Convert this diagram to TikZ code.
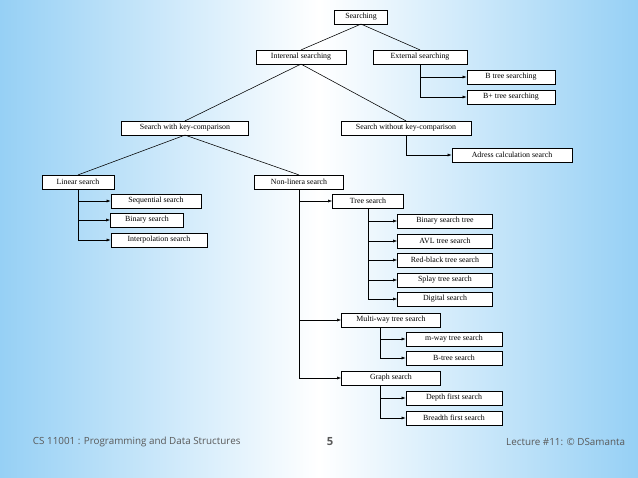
\documentclass[tikz,border=0pt]{standalone}
\usepackage{fontspec}
\setmainfont{Liberation Serif}
\newfontfamily\footfont{Open Sans}
\usetikzlibrary{arrows.meta}
\definecolor{skyedge}{RGB}{150,208,245}

\begin{document}
\begin{tikzpicture}[x=0.025cm, y=-0.025cm,
  box/.style={draw, fill=white, thin, inner sep=1pt, minimum height=0.34cm,
    minimum width=#1*0.025cm, font=\fontsize{5.6}{6}\selectfont},
  arr/.style={-{Latex[length=3pt,width=2.2pt]}, thin},
  foot/.style={font=\footfont\fontsize{7}{8}\selectfont, text=gray!70!black}]
\useasboundingbox (0,0) rectangle (638,478);
\shade[left color=skyedge, right color=skyedge, middle color=white]
  (0,0) rectangle (638,478);
% tree of boxes
\node[box=53] (srch) at (361,17) {Searching};
\node[box=90] (intl) at (301,57) {Interenal searching};
\node[box=94] (extl) at (420,57) {External searching};
\node[box=88] (btr) at (511,77) {B tree searching};
\node[box=88] (bpl) at (511,97) {B+ tree searching};
\node[box=127] (wkey) at (185,128) {Search with key-comparison};
\node[box=130] (wokey) at (406,128) {Search without key-comparison};
\node[box=120] (addr) at (512,155) {Adress calculation search};
\node[box=72] (lin) at (78,182) {Linear search};
\node[box=89] (nlin) at (299,182) {Non-linera search};
\node[box=90] (seq) at (156,201) {Sequential search};
\node[box=73] (bin) at (147,220) {Binary search};
\node[box=96] (intp) at (159,240) {Interpolation search};
\node[box=71] (tree) at (368,201) {Tree search};
\node[box=95] (bst) at (445,221) {Binary search tree};
\node[box=95] (avl) at (445,241) {AVL tree search};
\node[box=95] (rbt) at (445,260) {Red-black tree search};
\node[box=95] (spl) at (445,280) {Splay tree search};
\node[box=95] (dig) at (445,299) {Digital search};
\node[box=99] (mway) at (391,320) {Multi-way tree search};
\node[box=96] (mwt) at (454,339) {m-way tree search};
\node[box=96] (bts) at (454,358) {B-tree search};
\node[box=99] (grph) at (391,378) {Graph search};
\node[box=96] (dfs) at (454,398) {Depth first search};
\node[box=96] (bfs) at (454,418) {Breadth first search};
% slanted links
\draw[thin] (srch.south) -- (intl.north);
\draw[thin] (srch.south) -- (extl.north);
\draw[thin] (intl.south) -- (wkey.north);
\draw[thin] (intl.south) -- (wokey.north);
\draw[thin] (wkey.south) -- (lin.north);
\draw[thin] (wkey.south) -- (nlin.north);
% elbow arrows
\foreach \c in {btr,bpl} \draw[arr] (extl.south) |- (\c.west);
\draw[arr] (wokey.south) |- (addr.west);
\foreach \c in {seq,bin,intp} \draw[arr] (lin.south) |- (\c.west);
\foreach \c in {tree,mway,grph} \draw[arr] (nlin.south) |- (\c.west);
\foreach \c in {bst,avl,rbt,spl,dig} \draw[arr] (tree.south) |- (\c.west);
\foreach \c in {mwt,bts} \draw[arr] ([xshift=-0.275cm]mway.south) |- (\c.west);
\foreach \c in {dfs,bfs} \draw[arr] ([xshift=-0.275cm]grph.south) |- (\c.west);
% footer
\node[foot, anchor=west] (fl) at (28,442) {CS 11001 : Programming and Data Structures};
\node[foot, font=\footfont\bfseries\fontsize{8}{9}\selectfont] (fm) at (330,442) {5};
\node[foot, anchor=east] (fr) at (630,442) {Lecture \#11: \textcopyright{} DSamanta};
\end{tikzpicture}
\end{document}
